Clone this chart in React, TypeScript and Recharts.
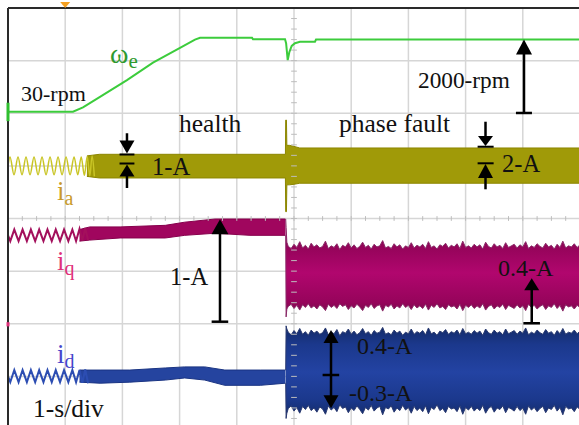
import React from 'react';
import {
  ComposedChart, Line, Area, XAxis, YAxis, CartesianGrid, ReferenceLine, ReferenceDot,
} from 'recharts';

// time axis in seconds (1 s/div), amplitude in screen divisions (8 div)
const X_TICKS = [0, 1, 2, 3, 4, 5, 6, 7, 8, 9, 10];
const Y_TICKS = [0, 1, 2, 3, 4, 5, 6, 7, 8];

// speed omega_e
const SPEED_T = [0, 1.136, 1.311, 1.608, 2.080, 2.535, 3.007, 3.269, 3.357, 4.266, 4.283, 4.843, 4.862, 4.890, 4.918, 4.960, 5.017, 5.105, 5.367, 5.385, 10];
const SPEED_V = [6.03, 6.03, 6.11, 6.31, 6.63, 6.96, 7.24, 7.40, 7.435, 7.435, 7.405, 7.405, 7.33, 7.01, 7.16, 7.28, 7.33, 7.36, 7.36, 7.40, 7.40];

// phase current i_a : start-up waveform
const IA_WAVE_T = [0, 0.035, 0.105, 0.175, 0.245, 0.315, 0.385, 0.455, 0.525, 0.595, 0.665, 0.735, 0.805, 0.875, 0.945, 1.015, 1.085, 1.155, 1.22, 1.28, 1.335, 1.385, 1.43, 1.47, 1.51];
const IA_WAVE_V = [5.0, 5.17, 4.83, 5.17, 4.83, 5.17, 4.83, 5.17, 4.83, 5.17, 4.83, 5.17, 4.83, 5.17, 4.83, 5.17, 4.83, 5.17, 4.83, 5.17, 4.82, 5.18, 4.81, 5.19, 4.80];
// i_a envelope
const IA_BAND_T = [1.38, 1.60, 4.85, 4.855, 4.868, 4.875, 4.92, 5.00, 5.10, 10];
const IA_BAND_LO = [4.80, 4.77, 4.77, 4.13, 4.13, 4.64, 4.64, 4.65, 4.67, 4.67];
const IA_BAND_HI = [5.19, 5.22, 5.22, 5.87, 5.87, 5.39, 5.39, 5.37, 5.34, 5.34];

// i_q and i_d start-up ripple
const DQ_WAVE_T = [0, 0.04, 0.11, 0.185, 0.255, 0.33, 0.40, 0.475, 0.545, 0.62, 0.69, 0.765, 0.835, 0.91, 0.98, 1.055, 1.125, 1.19, 1.25, 1.30, 1.35, 1.40];
const IQ_WAVE_V = [3.68, 3.57, 3.79, 3.57, 3.79, 3.57, 3.79, 3.57, 3.79, 3.57, 3.79, 3.57, 3.79, 3.57, 3.79, 3.57, 3.79, 3.57, 3.80, 3.58, 3.82, 3.59];
const ID_WAVE_V = [1.00, 0.89, 1.12, 0.89, 1.12, 0.89, 1.12, 0.89, 1.12, 0.89, 1.12, 0.89, 1.12, 0.89, 1.12, 0.89, 1.12, 0.89, 1.12, 0.88, 1.13, 0.87];

// healthy envelopes
const IQ_HEALTH_T = [1.25, 1.43, 1.96, 2.75, 3.09, 3.62, 4.23, 4.85];
const IQ_HEALTH_LO = [3.57, 3.59, 3.63, 3.63, 3.68, 3.72, 3.68, 3.68];
const IQ_HEALTH_HI = [3.79, 3.84, 3.84, 3.87, 3.93, 3.99, 3.99, 3.99];
const ID_HEALTH_T = [1.25, 1.61, 2.13, 2.75, 3.09, 3.44, 3.79, 4.41, 4.85];
const ID_HEALTH_LO = [0.89, 0.87, 0.89, 0.93, 0.97, 0.93, 0.83, 0.83, 0.87];
const ID_HEALTH_HI = [1.12, 1.12, 1.12, 1.16, 1.18, 1.18, 1.12, 1.12, 1.12];

// phase-fault envelopes: transient samples, then samples every 0.05 s from 4.9 s
const FAULT_PRE_T = [4.855, 4.862, 4.875];
const FAULT_SAMPLE_T = Array.from({ length: 103 }, (_, i) => +(4.9 + i * 0.05).toFixed(2));
const IQ_FAULT_HI = [3.99, 3.83, 3.55,
  3.47, 3.43, 3.51, 3.45, 3.56, 3.44, 3.49, 3.42, 3.53, 3.46,
  3.50, 3.44, 3.47, 3.57, 3.43, 3.48, 3.45, 3.52, 3.41, 3.49,
  3.46, 3.54, 3.44, 3.50, 3.43, 3.47, 3.55, 3.45, 3.49, 3.42,
  3.51, 3.46, 3.48, 3.58, 3.44, 3.47, 3.43, 3.52, 3.46, 3.50,
  3.42, 3.48, 3.45, 3.54, 3.44, 3.49, 3.46, 3.51, 3.43, 3.56,
  3.45, 3.48, 3.42, 3.50, 3.47, 3.53, 3.44, 3.49, 3.46, 3.52,
  3.43, 3.57, 3.45, 3.48, 3.44, 3.51, 3.46, 3.50, 3.42, 3.55,
  3.47, 3.44, 3.52, 3.46, 3.49, 3.43, 3.54, 3.45, 3.48, 3.51,
  3.44, 3.50, 3.46, 3.56, 3.43, 3.48, 3.45, 3.52, 3.47, 3.44,
  3.53, 3.46, 3.49, 3.42, 3.51, 3.45, 3.57, 3.44, 3.48, 3.46,
  3.52, 3.45, 3.50];
const IQ_FAULT_LO = [3.68, 2.13, 2.28,
  2.33, 2.37, 2.29, 2.35, 2.26, 2.36, 2.31, 2.38, 2.30, 2.34,
  2.28, 2.36, 2.32, 2.25, 2.37, 2.31, 2.35, 2.29, 2.38, 2.33,
  2.36, 2.27, 2.34, 2.30, 2.37, 2.32, 2.25, 2.35, 2.31, 2.38,
  2.29, 2.34, 2.36, 2.24, 2.35, 2.32, 2.37, 2.28, 2.34, 2.30,
  2.38, 2.31, 2.35, 2.27, 2.36, 2.30, 2.34, 2.29, 2.37, 2.26,
  2.35, 2.31, 2.38, 2.30, 2.33, 2.27, 2.36, 2.32, 2.34, 2.28,
  2.37, 2.25, 2.35, 2.31, 2.36, 2.29, 2.34, 2.30, 2.38, 2.26,
  2.33, 2.36, 2.28, 2.34, 2.31, 2.37, 2.27, 2.35, 2.32, 2.29,
  2.36, 2.30, 2.34, 2.25, 2.37, 2.31, 2.35, 2.28, 2.33, 2.36,
  2.27, 2.34, 2.31, 2.38, 2.29, 2.35, 2.24, 2.36, 2.32, 2.34,
  2.28, 2.35, 2.31];
const ID_FAULT_HI = [1.12, 1.96, 1.90,
  1.84, 1.79, 1.87, 1.81, 1.91, 1.80, 1.85, 1.78, 1.88, 1.82,
  1.86, 1.80, 1.83, 1.92, 1.79, 1.84, 1.81, 1.89, 1.77, 1.85,
  1.82, 1.90, 1.80, 1.86, 1.79, 1.83, 1.91, 1.81, 1.85, 1.78,
  1.87, 1.82, 1.84, 1.93, 1.80, 1.83, 1.79, 1.88, 1.82, 1.86,
  1.78, 1.84, 1.81, 1.90, 1.80, 1.85, 1.82, 1.87, 1.79, 1.92,
  1.81, 1.84, 1.78, 1.86, 1.83, 1.89, 1.80, 1.85, 1.82, 1.88,
  1.79, 1.91, 1.81, 1.84, 1.80, 1.87, 1.82, 1.86, 1.78, 1.90,
  1.83, 1.80, 1.88, 1.82, 1.85, 1.79, 1.90, 1.81, 1.84, 1.87,
  1.80, 1.86, 1.82, 1.92, 1.79, 1.84, 1.81, 1.88, 1.83, 1.80,
  1.89, 1.82, 1.85, 1.78, 1.87, 1.81, 1.91, 1.80, 1.84, 1.82,
  1.88, 1.81, 1.86];
const ID_FAULT_LO = [0.87, 0.20, 0.30,
  0.39, 0.44, 0.34, 0.41, 0.30, 0.43, 0.37, 0.45, 0.35, 0.40,
  0.32, 0.42, 0.38, 0.28, 0.44, 0.36, 0.41, 0.33, 0.46, 0.39,
  0.42, 0.31, 0.40, 0.35, 0.44, 0.37, 0.29, 0.41, 0.36, 0.45,
  0.34, 0.40, 0.43, 0.27, 0.41, 0.38, 0.44, 0.32, 0.40, 0.35,
  0.45, 0.36, 0.41, 0.30, 0.43, 0.35, 0.40, 0.33, 0.44, 0.29,
  0.41, 0.37, 0.46, 0.35, 0.39, 0.31, 0.43, 0.38, 0.40, 0.33,
  0.44, 0.28, 0.41, 0.36, 0.43, 0.34, 0.40, 0.35, 0.45, 0.30,
  0.39, 0.43, 0.32, 0.40, 0.37, 0.44, 0.31, 0.41, 0.38, 0.34,
  0.43, 0.35, 0.40, 0.28, 0.44, 0.36, 0.41, 0.33, 0.39, 0.43,
  0.31, 0.40, 0.37, 0.45, 0.34, 0.41, 0.27, 0.43, 0.38, 0.40,
  0.33, 0.42, 0.37];
const FAULT_T = [...FAULT_PRE_T, ...FAULT_SAMPLE_T];

const X_MINOR = Array.from({ length: 39 }, (_, i) => (i + 1) * 0.25);
const Y_MINOR = Array.from({ length: 39 }, (_, i) => (i + 1) * 0.2);

const series = (T: number[], V: number[]) => T.map((t, i) => ({ t, v: V[i] }));
const band = (T: number[], LO: number[], HI: number[]) => T.map((t, i) => ({ t, r: [LO[i], HI[i]] }));

const speedData = series(SPEED_T, SPEED_V);
const iaWave = series(IA_WAVE_T, IA_WAVE_V);
const iqWave = series(DQ_WAVE_T, IQ_WAVE_V);
const idWave = series(DQ_WAVE_T, ID_WAVE_V);
const iaBand = band(IA_BAND_T, IA_BAND_LO, IA_BAND_HI);
const iqHealth = band(IQ_HEALTH_T, IQ_HEALTH_LO, IQ_HEALTH_HI);
const idHealth = band(ID_HEALTH_T, ID_HEALTH_LO, ID_HEALTH_HI);
const iqFault = band(FAULT_T, IQ_FAULT_LO, IQ_FAULT_HI);
const idFault = band(FAULT_T, ID_FAULT_LO, ID_FAULT_HI);

const FONT = "'Liberation Serif', 'Times New Roman', serif";

const label = (key: string, t: number, v: number, text: string, size: number, color = '#111', sub?: string, subSize?: number) => (
  <ReferenceDot
    key={key}
    x={t}
    y={v}
    r={0}
    ifOverflow="visible"
    shape={(p: any) => (
      <text x={p.cx} y={p.cy} fontFamily={FONT} fontSize={size} fill={color}>
        {text}
        {sub ? <tspan fontSize={subSize} dy={size * 0.18}>{sub}</tspan> : null}
      </text>
    )}
  />
);

const head = (key: string, t: number, v: number, dir: 'up' | 'down', w = 15, h = 13, color = '#000') => (
  <ReferenceDot
    key={key}
    x={t}
    y={v}
    r={0}
    ifOverflow="visible"
    shape={(p: any) => {
      const s = dir === 'up' ? 1 : -1;
      const pts = `${p.cx},${p.cy} ${p.cx - w / 2},${p.cy + s * h} ${p.cx + w / 2},${p.cy + s * h}`;
      return <polygon points={pts} fill={color} />;
    }}
  />
);

const seg = (key: string, t1: number, v1: number, t2: number, v2: number, w = 2.5, color = '#000') => (
  <ReferenceLine
    key={key}
    segment={[{ x: t1, y: v1 }, { x: t2, y: v2 }]}
    stroke={color}
    strokeWidth={w}
    ifOverflow="visible"
  />
);

export default function App() {
  return (
    <div style={{ position: 'absolute', left: 0, top: 0, width: 579, height: 425, overflow: 'hidden', background: '#fff' }}>
      <ComposedChart width={580} height={429} margin={{ top: 8, right: 0, bottom: 0, left: 8 }}>
        <defs>
          <linearGradient id="gq" x1="0" y1="0" x2="0" y2="1">
            <stop offset="0" stopColor="#6d0b44" />
            <stop offset="0.3" stopColor="#96045b" />
            <stop offset="0.55" stopColor="#b1066e" />
            <stop offset="0.85" stopColor="#96045b" />
            <stop offset="1" stopColor="#6d0b44" />
          </linearGradient>
          <linearGradient id="gd" x1="0" y1="0" x2="0" y2="1">
            <stop offset="0" stopColor="#122a66" />
            <stop offset="0.2" stopColor="#1b388c" />
            <stop offset="0.5" stopColor="#2343a3" />
            <stop offset="0.8" stopColor="#1b388c" />
            <stop offset="1" stopColor="#122a66" />
          </linearGradient>
        </defs>
        <XAxis dataKey="t" type="number" domain={[0, 10]} ticks={X_TICKS} hide allowDataOverflow />
        <YAxis type="number" domain={[0, 8]} ticks={Y_TICKS} hide allowDataOverflow />
        <CartesianGrid stroke="#d6d6d6" strokeWidth={1.5} />

        {X_MINOR.map((t) => seg(`xm${t}`, t, 3.955, t, 4.045, 1, '#bdbdbd'))}
        {Y_MINOR.map((v) => seg(`ym${v}`, 4.95, v, 5.05, v, 1, '#bdbdbd'))}

        <Area data={iaBand} dataKey="r" type="linear" fill="#a09a08" fillOpacity={1} stroke="#8c8600" strokeWidth={1} isAnimationActive={false} />
        <Line data={iaWave} dataKey="v" type="monotone" stroke="#c9c526" strokeWidth={1.5} dot={false} isAnimationActive={false} />

        <Area data={iqHealth} dataKey="r" type="linear" fill="#a0065e" fillOpacity={1} stroke="#86004c" strokeWidth={1} isAnimationActive={false} />
        <Line data={iqWave} dataKey="v" type="linear" stroke="#a3105c" strokeWidth={2} dot={false} isAnimationActive={false} />
        <Area data={iqFault} dataKey="r" type="linear" fill="url(#gq)" fillOpacity={1} stroke="#8a2a68" strokeWidth={1} isAnimationActive={false} />

        <Area data={idHealth} dataKey="r" type="linear" fill="#25449f" fillOpacity={1} stroke="#1a3483" strokeWidth={1} isAnimationActive={false} />
        <Line data={idWave} dataKey="v" type="linear" stroke="#2c4db2" strokeWidth={2} dot={false} isAnimationActive={false} />
        <Area data={idFault} dataKey="r" type="linear" fill="url(#gd)" fillOpacity={1} stroke="#2a3a70" strokeWidth={1} isAnimationActive={false} />

        <Line data={speedData} dataKey="v" type="linear" stroke="#3ccc3c" strokeWidth={2} dot={false} isAnimationActive={false} />

        {/* screen border and channel markers */}
        <ReferenceLine y={8} stroke="#2a2a2a" strokeWidth={2} ifOverflow="visible" />
        <ReferenceLine x={0} stroke="#2a2a2a" strokeWidth={2} ifOverflow="visible" />
        {seg('gm', 0, 5.85, 0, 6.2, 3, '#2fbf2f')}
        {seg('pm', 0, 1.95, 0, 2.03, 3, '#e0307a')}
        {head('trig', 1.0, 8, 'down', 10, 6, '#f5a020')}

        {/* 2000-rpm arrow */}
        {seg('a1s', 9.021, 7.3, 9.021, 6.005)}
        {seg('a1c', 8.88, 6.005, 9.16, 6.005)}
        {head('a1h', 9.021, 7.401, 'up', 16, 15)}

        {/* i_a 1-A markers */}
        {seg('b1s', 2.08, 5.62, 2.08, 5.3)}
        {head('b1h', 2.08, 5.235, 'down', 15, 13)}
        {seg('b1c', 1.95, 5.216, 2.21, 5.216, 2)}
        {seg('b2c', 1.95, 5.045, 2.21, 5.045, 2)}
        {head('b2h', 2.08, 5.026, 'up', 15, 12)}
        {seg('b2s', 2.08, 4.9, 2.08, 4.58)}

        {/* i_a 2-A markers */}
        {seg('c1s', 8.348, 5.839, 8.348, 5.45)}
        {head('c1h', 8.348, 5.378, 'down', 15, 10)}
        {seg('c1c', 8.21, 5.364, 8.49, 5.364, 2)}
        {seg('c2c', 8.21, 5.049, 8.49, 5.049, 2)}
        {head('c2h', 8.348, 5.036, 'up', 15, 14)}
        {seg('c2s', 8.348, 4.9, 8.348, 4.555)}

        {/* i_q 1-A arrow */}
        {seg('d1s', 3.706, 3.8, 3.706, 2.039)}
        {seg('d1c', 3.56, 2.039, 3.85, 2.039)}
        {head('d1h', 3.706, 3.985, 'up', 17, 15)}

        {/* i_q 0.4-A arrow */}
        {seg('e1s', 9.156, 2.75, 9.156, 2.009)}
        {seg('e1c', 9.01, 2.009, 9.30, 2.009)}
        {head('e1h', 9.156, 2.864, 'up', 15, 12)}

        {/* i_d arrows */}
        {seg('f1s', 5.647, 1.75, 5.647, 0.52)}
        {seg('f1c', 5.50, 1.026, 5.79, 1.026)}
        {head('f1h', 5.647, 1.881, 'up', 15, 13)}
        {head('f2h', 5.647, 0.393, 'down', 15, 13)}

        {/* texts */}
        {label('l30', 0.227, 6.233, '30-rpm', 22)}
        {label('lw', 1.783, 6.955, 'ω', 28, '#2f9a2f', 'e', 21)}
        {label('lh', 2.99, 5.644, 'health', 25.5)}
        {label('lp', 5.787, 5.644, 'phase fault', 25.5)}
        {label('l2000', 7.168, 6.48, '2000-rpm', 23.3)}
        {label('l1a', 2.517, 4.836, '1-A', 24.5)}
        {label('l2a', 8.636, 4.893, '2-A', 24.5)}
        {label('lia', 0.857, 4.352, 'i', 27, '#c99a2a', 'a', 20)}
        {label('l1q', 2.832, 2.736, '1-A', 24.5)}
        {label('liq', 0.857, 3.021, 'i', 27, '#e0307a', 'q', 20)}
        {label('l04q', 8.566, 2.898, '0.4-A', 24)}
        {label('l04d', 6.101, 1.425, '0.4-A', 24)}
        {label('l03d', 5.962, 0.532, '-0.3-A', 24)}
        {label('lid', 0.857, 1.254, 'i', 27, '#4545cc', 'd', 20)}
        {label('ldiv', 0.437, 0.219, '1-s/div', 25.5)}
      </ComposedChart>
    </div>
  );
}
